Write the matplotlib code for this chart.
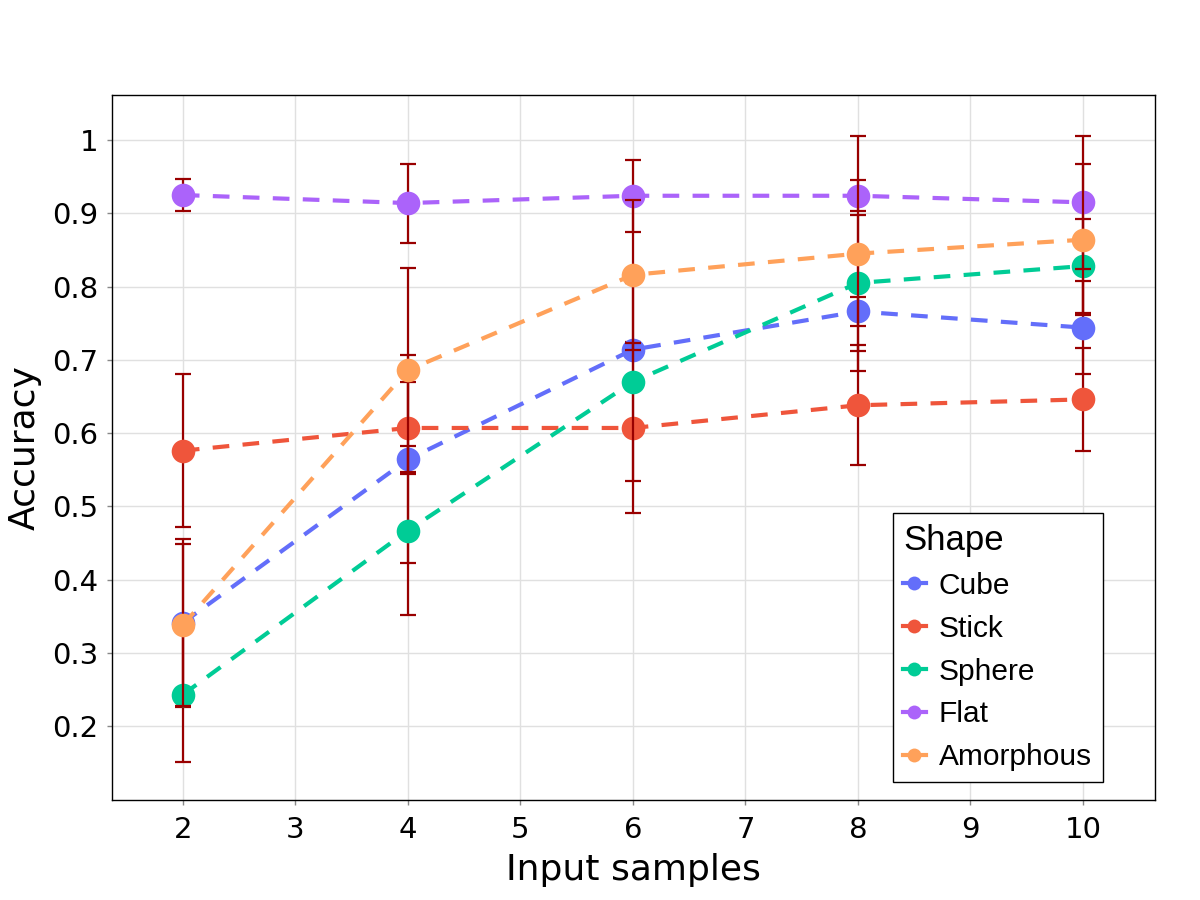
import matplotlib
matplotlib.use("Agg")
import matplotlib.pyplot as plt
from matplotlib.lines import Line2D
from matplotlib.ticker import FuncFormatter

# --- data ---
samples = [2, 4, 6, 8, 10]
shapes = ["Cube", "Stick", "Sphere", "Flat", "Amorphous"]

cube = [0.341, 0.564, 0.714, 0.766, 0.744]
cube_err = [0.115, 0.142, 0.010, 0.020, 0.063]
stick = [0.576, 0.607, 0.607, 0.638, 0.646]
stick_err = [0.104, 0.063, 0.116, 0.082, 0.070]
sphere = [0.243, 0.467, 0.670, 0.805, 0.828]
sphere_err = [0.092, 0.115, 0.135, 0.093, 0.064]
flat = [0.925, 0.914, 0.924, 0.924, 0.915]
flat_err = [0.022, 0.054, 0.049, 0.021, 0.091]
amorph = [0.338, 0.686, 0.816, 0.845, 0.864]
amorph_err = [0.110, 0.139, 0.102, 0.160, 0.103]

colors = ["#636EFA", "#EF553B", "#00CC96", "#AB63FA", "#FFA15A"]
err_color = "#990000"

series = [cube, stick, sphere, flat, amorph]
errors = [cube_err, stick_err, sphere_err, flat_err, amorph_err]

fig = plt.figure(figsize=(12, 9), dpi=100)
ax = fig.add_axes([0.0933, 0.111, 0.8692, 0.783])

for i, (vals, errs, col) in enumerate(zip(series, errors, colors)):
    z = 3 + i * 2
    ax.plot(samples, vals, color=col, lw=3.0, dashes=(4, 3.2), zorder=z)
    ax.errorbar(samples, vals, yerr=errs, fmt="none", ecolor=err_color,
                elinewidth=1.6, capsize=5.5, capthick=1.6, zorder=z)
    ax.plot(samples, vals, "o", color=col, ms=17, mec="none", zorder=z + 1)

ax.set_xlim(1.37, 10.64)
ax.set_ylim(0.099, 1.061)
ax.set_xticks(range(2, 11))
ax.set_yticks([0.2, 0.3, 0.4, 0.5, 0.6, 0.7, 0.8, 0.9, 1.0])
ax.yaxis.set_major_formatter(FuncFormatter(lambda v, p: f"{v:g}"))

ax.grid(True, color="#e0e0e0", lw=1.0, zorder=0)
ax.set_axisbelow(True)
for s in ax.spines.values():
    s.set_color("black")
    s.set_linewidth(1.0)

ax.tick_params(axis="both", direction="out", length=3.6, width=1, color="#888888",
               labelsize=21, pad=6)
ax.tick_params(axis="x", pad=8)

ax.set_xlabel("Input samples", fontsize=26)
ax.set_ylabel("Accuracy", fontsize=26)
ax.xaxis.set_label_coords(0.5, -0.075)
ax.yaxis.set_label_coords(-0.067, 0.5)

handles = [Line2D([0], [0], color=c, lw=3, marker="o", ms=10, mec="none")
           for c in colors]
leg = ax.legend(handles, shapes, title="Shape", loc="upper left",
                bbox_to_anchor=(0.7485, 0.407), borderaxespad=0,
                frameon=True, fancybox=False,
                framealpha=1, edgecolor="black", borderpad=0.35,
                labelspacing=0.5, handlelength=0.75, handletextpad=0.45,
                prop={"family": "Liberation Sans", "size": 21.5},
                title_fontproperties={"family": "Liberation Sans", "size": 25})
leg._legend_box.align = "left"
leg.get_frame().set_linewidth(1.0)
leg.set_zorder(20)

fig.savefig("out.png", dpi=100)
